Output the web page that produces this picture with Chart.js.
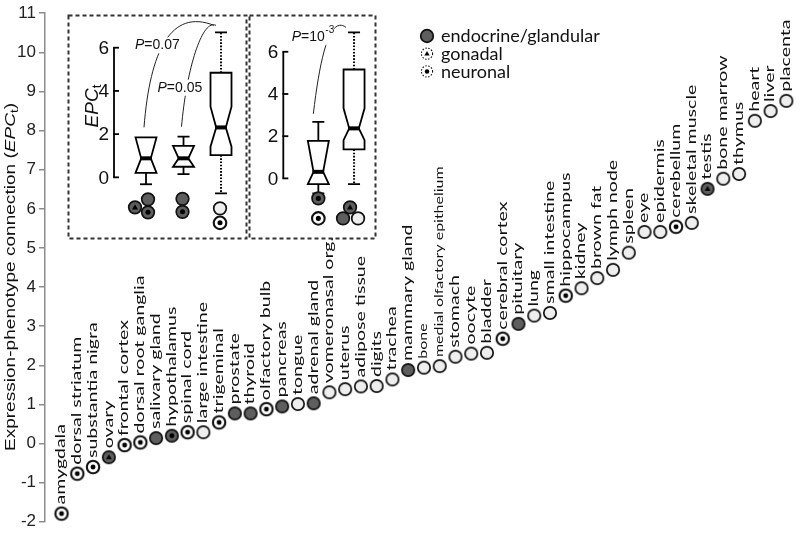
<!DOCTYPE html>
<html>
<head>
<meta charset="utf-8">
<script src="https://cdn.jsdelivr.net/npm/chart.js@4.4.0/dist/chart.umd.min.js"></script>
<style>
  html, body { margin: 0; padding: 0; background: #fff; }
  #wrap { position: relative; width: 802px; height: 535px; }
  #mainChart { position: absolute; left: 0; top: 0; }
  .inset { position: absolute; top: 14px; }
</style>
</head>
<body>
<div id="wrap">
  <canvas id="mainChart" width="802" height="535"></canvas>
  <canvas id="insetA" class="inset" width="181" height="226" style="left:67px"></canvas>
  <canvas id="insetB" class="inset" width="129" height="226" style="left:248px"></canvas>
</div>
<script>
// DATOS: tejidos ordenados por EPCt
const tissues = [
  'amygdala', 'dorsal striatum', 'substantia nigra', 'ovary', 'frontal cortex', 'dorsal root ganglia',
  'salivary gland', 'hypothalamus', 'spinal cord', 'large intestine', 'trigeminal', 'prostate', 'thyroid',
  'olfactory bulb', 'pancreas', 'tongue', 'adrenal gland', 'vomeronasal org.', 'uterus', 'adipose tissue',
  'digits', 'trachea', 'mammary gland', 'bone', 'medial olfactory epithelium', 'stomach', 'oocyte', 'bladder',
  'cerebral cortex', 'pituitary', 'lung', 'small intestine', 'hippocampus', 'kidney', 'brown fat', 'lymph node',
  'spleen', 'eye', 'epidermis', 'cerebellum', 'skeletal muscle', 'testis', 'bone marrow', 'thymus', 'heart',
  'liver', 'placenta'
];
const epcValues = [
  -1.79, -0.77, -0.60, -0.35, -0.04, 0.03, 0.14, 0.20, 0.29, 0.29, 0.54, 0.77, 0.77, 0.88, 0.95,
  1.01, 1.03, 1.31, 1.39, 1.46, 1.47, 1.64, 1.88, 1.94, 1.98, 2.22, 2.30, 2.32, 2.68, 3.06,
  3.27, 3.34, 3.78, 3.97, 4.23, 4.44, 4.88, 5.41, 5.41, 5.54, 5.64, 6.51, 6.77, 6.89, 8.25,
  8.50, 8.76
];
// E = endocrino, N = neuronal, EN = ambos, G = gonadal, O = otro
const tissueClass = [
  'N', 'N', 'N', 'G', 'N', 'N', 'E', 'EN', 'N', 'O', 'N', 'E', 'E', 'N', 'E',
  'O', 'E', 'O', 'O', 'O', 'O', 'O', 'E', 'O', 'O', 'O', 'O', 'O', 'N', 'E',
  'O', 'O', 'N', 'O', 'O', 'O', 'O', 'O', 'O', 'N', 'O', 'G', 'O', 'O', 'O',
  'O', 'O'
];
const yTicks = [-2, -1, 0, 1, 2, 3, 4, 5, 6, 7, 8, 9, 10, 11];

// Leyenda
const legendLabels = ['endocrine/glandular', 'gonadal', 'neuronal'];
const legendClass = ['E', 'GL', 'NL'];

// Recuadro 1: endocrino / endocrino+neuronal / resto
const insetAQ1 = [0.21, 0.49, 1.03];
const insetAQ3 = [1.85, 1.46, 4.84];
const insetAMedian = [0.88, 0.88, 2.31];
const insetANotchLo = [0.21, 0.49, 1.42];
const insetANotchHi = [1.85, 1.46, 3.27];
const insetAWhiskLo = [-0.32, 0.15, -0.74];
const insetAWhiskHi = [1.85, 1.88, 6.71];
const insetAPValues = ['0.07', '0.05'];

// Recuadro 2: neuronal / no neuronal
const insetBQ1 = [-0.27, 1.37];
const insetBQ3 = [1.78, 5.16];
const insetBMedian = [0.31, 2.37];
const insetBNotchLo = [-0.27, 1.81];
const insetBNotchHi = [1.78, 3.32];
const insetBWhiskLo = [-0.71, -0.27];
const insetBWhiskHi = [2.68, 6.92];
const insetBPValues = ['10'];

const insetTicks = [0, 2, 4, 6];

// ESTILOS
const DARK = '#5e5e5e';
const LIGHT = '#eeeeee';
const INK = '#111111';
const smallLabels = ['bone', 'medial olfactory epithelium'];
const LABEL_STRETCH = 1.45; // las etiquetas del original están estiradas a lo largo

// Dibuja un marcador según la clase del tejido
function drawMarker(c, cls, x, y, r) {
  c.save();
  const dotted = cls === 'GL' || cls === 'NL';
  let fill = LIGHT;
  if (cls === 'E' || cls === 'EN' || cls === 'G') fill = DARK;
  if (cls === 'N' || dotted) fill = '#ffffff';
  c.beginPath();
  c.arc(x, y, r, 0, Math.PI * 2);
  c.fillStyle = fill;
  c.fill();
  c.strokeStyle = INK;
  if (dotted) {
    c.setLineDash([1.4, 1.6]);
    c.lineWidth = 1.1;
  } else {
    c.lineWidth = cls === 'N' ? 2.1 : 1.7;
  }
  c.stroke();
  c.setLineDash([]);
  c.fillStyle = '#000';
  if (cls === 'N' || cls === 'EN' || cls === 'NL') {
    c.beginPath();
    c.arc(x, y, r * 0.4, 0, Math.PI * 2);
    c.fill();
  }
  if (cls === 'G' || cls === 'GL') {
    const t = r * 0.5;
    c.beginPath();
    c.moveTo(x, y - t);
    c.lineTo(x + t * 0.95, y + t * 0.65);
    c.lineTo(x - t * 0.95, y + t * 0.65);
    c.closePath();
    c.fill();
  }
  c.restore();
}

// Imágenes de marcador para Chart.js
const markerIcons = {};
['E', 'N', 'EN', 'G', 'O'].forEach(cls => {
  const cv = document.createElement('canvas');
  cv.width = 18;
  cv.height = 18;
  drawMarker(cv.getContext('2d'), cls, 9, 9, 6.2);
  markerIcons[cls] = cv;
});

// Texto con partes de distinto estilo (cursiva, subíndice)
function drawRichText(c, parts, cx, cy, rot, stretch) {
  c.save();
  c.translate(cx, cy);
  c.rotate(rot);
  c.scale(stretch || 1, 1);
  c.textBaseline = 'middle';
  c.textAlign = 'left';
  let total = 0;
  parts.forEach(p => { c.font = p.font; p.w = c.measureText(p.text).width; total += p.w; });
  let x = -total / 2;
  parts.forEach(p => {
    c.font = p.font;
    c.fillText(p.text, x, p.dy || 0);
    x += p.w;
  });
  c.restore();
}

const mainDecor = {
  id: 'mainDecor',
  afterDatasetsDraw(chart) {
    const c = chart.ctx;
    const meta = chart.getDatasetMeta(0);
    c.save();
    c.fillStyle = INK;
    c.textAlign = 'left';
    c.textBaseline = 'middle';
    // etiquetas de tejidos (verticales)
    meta.data.forEach((pt, i) => {
      const small = smallLabels.includes(tissues[i]);
      c.font = (small ? 11 : 13.5) + 'px Lato';
      c.save();
      c.translate(pt.x - 0.5, pt.y - 9);
      c.rotate(-Math.PI / 2);
      c.scale(LABEL_STRETCH, 1);
      c.fillText(tissues[i], 0, 0);
      c.restore();
    });

    // título del eje Y
    c.fillStyle = '#111';
    drawRichText(c, [
      { text: 'Expression-phenotype connection (', font: '15.5px "Liberation Sans"' },
      { text: 'EPC', font: 'italic 15.5px "Liberation Sans"' },
      { text: 't', font: '11px "Liberation Sans"', dy: 3.5 },
      { text: ')', font: '15.5px "Liberation Sans"' }
    ], 11, 277, -Math.PI / 2, 1.23);

    // leyenda
    legendLabels.forEach((lab, i) => {
      const y = 36 + i * 17.7;
      drawMarker(c, legendClass[i], 427, y, i === 0 ? 6.3 : 5.6);
      c.fillStyle = INK;
      c.font = '18px Lato';
      c.textAlign = 'left';
      c.textBaseline = 'middle';
      c.fillText(lab, 441, y + 0.5);
    });
    c.restore();
  }
};

// GRÁFICO PRINCIPAL
new Chart(document.getElementById('mainChart').getContext('2d'), {
  type: 'scatter',
  data: {
    datasets: [{
      data: epcValues.map((v, i) => ({ x: i, y: v })),
      pointStyle: ctx => (ctx.dataIndex === undefined ? 'circle' : markerIcons[tissueClass[ctx.dataIndex]]),
      pointRadius: 6,
      clip: false
    }]
  },
  options: {
    responsive: false,
    animation: false,
    devicePixelRatio: 1,
    layout: { padding: 0 },
    plugins: { legend: { display: false }, tooltip: { enabled: false } },
    scales: {
      x: { type: 'linear', min: -1.05, max: 46.55, display: false },
      y: {
        min: -2,
        max: 11,
        afterFit: s => { s.width = 45; },
        afterBuildTicks: s => { s.ticks = yTicks.map(v => ({ value: v })); },
        border: { color: '#8c8c8c', width: 1.5 },
        grid: { drawOnChartArea: false, tickLength: 6, color: '#8c8c8c', lineWidth: 1.5 },
        ticks: { font: { family: 'Liberation Sans', size: 17 }, color: '#222', padding: 3 }
      }
    }
  },
  plugins: [mainDecor]
});

// RECUADROS CON DIAGRAMAS DE CAJA
function insetPlugin(cfg) {
  return {
    id: 'insetDecor',
    afterDatasetsDraw(chart) {
      const c = chart.ctx;
      const xs = chart.scales.x;
      const ys = chart.scales.y;
      const W = chart.width, H = chart.height;
      c.save();
      // marco punteado
      c.strokeStyle = '#333';
      c.lineWidth = 2;
      c.setLineDash([4, 3]);
      c.strokeRect(1.5, 1.5, W - 3, H - 3);
      c.setLineDash([]);

      // eje Y
      const ax = cfg.axisPx;
      c.strokeStyle = '#000';
      c.lineWidth = 1.8;
      c.beginPath();
      c.moveTo(ax, ys.getPixelForValue(insetTicks[0]));
      c.lineTo(ax, ys.getPixelForValue(insetTicks[insetTicks.length - 1]));
      c.stroke();
      c.fillStyle = '#111';
      c.font = '19px "Liberation Sans"';
      c.textAlign = 'right';
      c.textBaseline = 'middle';
      insetTicks.forEach(v => {
        const y = ys.getPixelForValue(v);
        c.beginPath();
        c.moveTo(ax - 0.9, y);
        c.lineTo(ax + 5, y);
        c.stroke();
        c.fillText(String(v), ax - 5, y + 1);
      });
      if (cfg.axisLabel) {
        drawRichText(c, [
          { text: 'EPC', font: 'italic 19px "Liberation Sans"' },
          { text: 't', font: '13px "Liberation Sans"', dy: 4 }
        ], ax - 21, ys.getPixelForValue(3.3), -Math.PI / 2);
      }

      // cajas
      const hw = 10.5, nw = 4.8, cap = 6;
      cfg.q1.forEach((q1, i) => {
        const x = xs.getPixelForValue(i);
        const yq1 = ys.getPixelForValue(q1);
        const yq3 = ys.getPixelForValue(cfg.q3[i]);
        const ym = ys.getPixelForValue(cfg.median[i]);
        const ynl = ys.getPixelForValue(cfg.notchLo[i]);
        const ynh = ys.getPixelForValue(cfg.notchHi[i]);
        const ywl = ys.getPixelForValue(cfg.whiskLo[i]);
        const ywh = ys.getPixelForValue(cfg.whiskHi[i]);
        c.strokeStyle = '#000';
        c.lineWidth = 1.8;
        // bigotes
        if (cfg.dotted[i]) { c.setLineDash([1.6, 1.6]); c.lineWidth = 2; }
        c.beginPath();
        c.moveTo(x, yq1); c.lineTo(x, ywl);
        if (ywh < yq3 - 0.5) { c.moveTo(x, yq3); c.lineTo(x, ywh); }
        c.stroke();
        c.setLineDash([]);
        c.lineWidth = 1.8;
        c.beginPath();
        c.moveTo(x - cap, ywl); c.lineTo(x + cap, ywl);
        if (ywh < yq3 - 0.5) { c.moveTo(x - cap, ywh); c.lineTo(x + cap, ywh); }
        c.stroke();
        // caja con muesca
        c.beginPath();
        c.moveTo(x - hw, yq3);
        c.lineTo(x - hw, ynh);
        c.lineTo(x - nw, ym);
        c.lineTo(x - hw, ynl);
        c.lineTo(x - hw, yq1);
        c.lineTo(x + hw, yq1);
        c.lineTo(x + hw, ynl);
        c.lineTo(x + nw, ym);
        c.lineTo(x + hw, ynh);
        c.lineTo(x + hw, yq3);
        c.closePath();
        c.fillStyle = '#fff';
        c.fill();
        c.stroke();
        // mediana
        c.lineWidth = 4;
        c.beginPath();
        c.moveTo(x - nw - 1, ym); c.lineTo(x + nw + 1, ym);
        c.stroke();
        // iconos de clases
        const y0 = ys.getPixelForValue(0);
        cfg.icons[i].forEach(ic => drawMarker(c, ic[0], x + ic[1], y0 + ic[2], 6.3));
      });

      // curvas y valores P
      cfg.notes.forEach(n => {
        const x0 = xs.getPixelForValue(n.from) + n.s[0];
        const y0 = ys.getPixelForValue(cfg.whiskHi[n.from]) + n.s[1];
        const x1 = xs.getPixelForValue(n.to) + n.e[0];
        const y1 = ys.getPixelForValue(cfg.whiskHi[n.to]) + n.e[1];
        c.strokeStyle = '#222';
        c.lineWidth = 1;
        c.beginPath();
        c.moveTo(x0, y0);
        c.bezierCurveTo(x0 + n.c1[0], y0 + n.c1[1], x1 + n.c2[0], y1 + n.c2[1], x1, y1);
        c.stroke();
      });
      cfg.notes.forEach(n => {
        const tx = xs.getPixelForValue(n.from) + n.t[0];
        const ty = ys.getPixelForValue(cfg.whiskHi[n.from]) + n.t[1];
        c.textAlign = 'left';
        c.textBaseline = 'middle';
        c.font = 'italic 14px "Liberation Sans"';
        const wP = c.measureText('P').width;
        c.font = '14px "Liberation Sans"';
        const wT = c.measureText('=' + n.text).width;
        let wS = 0;
        if (n.sup) { c.font = '10px "Liberation Sans"'; wS = c.measureText(n.sup).width + 1; }
        c.fillStyle = '#fff';
        c.fillRect(tx - 1, ty - 8, wP + wT + wS + 2, 16);
        c.fillStyle = '#111';
        c.font = 'italic 14px "Liberation Sans"';
        c.fillText('P', tx, ty);
        c.font = '14px "Liberation Sans"';
        c.fillText('=' + n.text, tx + wP, ty);
        if (n.sup) {
          c.font = '10px "Liberation Sans"';
          c.fillText(n.sup, tx + wP + wT + 0.5, ty - 7);
        }
      });
      c.restore();
    }
  };
}

function makeInset(id, cfg) {
  new Chart(document.getElementById(id).getContext('2d'), {
    type: 'scatter',
    data: {
      datasets: [{ data: cfg.median.map((m, i) => ({ x: i, y: m })), pointRadius: 0 }]
    },
    options: {
      responsive: false,
      animation: false,
      devicePixelRatio: 1,
      layout: { padding: 0 },
      plugins: { legend: { display: false }, tooltip: { enabled: false } },
      scales: {
        x: { type: 'linear', min: cfg.xMin, max: cfg.xMax, display: false },
        y: { min: cfg.yMin, max: cfg.yMax, display: false }
      }
    },
    plugins: [insetPlugin(cfg)]
  });
}

makeInset('insetA', {
  q1: insetAQ1, q3: insetAQ3, median: insetAMedian,
  notchLo: insetANotchLo, notchHi: insetANotchHi,
  whiskLo: insetAWhiskLo, whiskHi: insetAWhiskHi,
  dotted: [false, false, true],
  xMin: -2.107, xMax: 2.72, yMin: -2.90, yMax: 7.56,
  axisPx: 47, axisLabel: true,
  icons: [
    [['G', -11, 30], ['E', 2, 22], ['EN', 2, 35]],
    [['E', -1, 21.5], ['EN', -1, 34.5]],
    [['O', -1, 31], ['N', -1, 45.5]]
  ],
  notes: [
    { from: 0, to: 2, text: insetAPValues[0], s: [-2, -10], e: [-7, -7], c1: [6, -77], c2: [-43, -17], t: [-11, -92] },
    { from: 1, to: 2, text: insetAPValues[1], s: [-2, -10], e: [-5, -7], c1: [5, -57], c2: [-14, -7], t: [-26, -49] }
  ]
});

makeInset('insetB', {
  q1: insetBQ1, q3: insetBQ3, median: insetBMedian,
  notchLo: insetBNotchLo, notchHi: insetBNotchHi,
  whiskLo: insetBWhiskLo, whiskHi: insetBWhiskHi,
  dotted: [false, true],
  xMin: -1.97, xMax: 1.643, yMin: -2.92, yMax: 7.79,
  axisPx: 35.3, axisLabel: false,
  icons: [
    [['EN', 0, 20], ['N', 0, 40]],
    [['G', -4, 29], ['E', -11, 40], ['O', 4, 40]]
  ],
  notes: [
    { from: 0, to: 1, text: insetBPValues[0], sup: '-3', s: [-5, -8], e: [-8, -5], c1: [7, -59], c2: [-16, -12], t: [-26.6, -85] }
  ]
});
</script>
</body>
</html>
